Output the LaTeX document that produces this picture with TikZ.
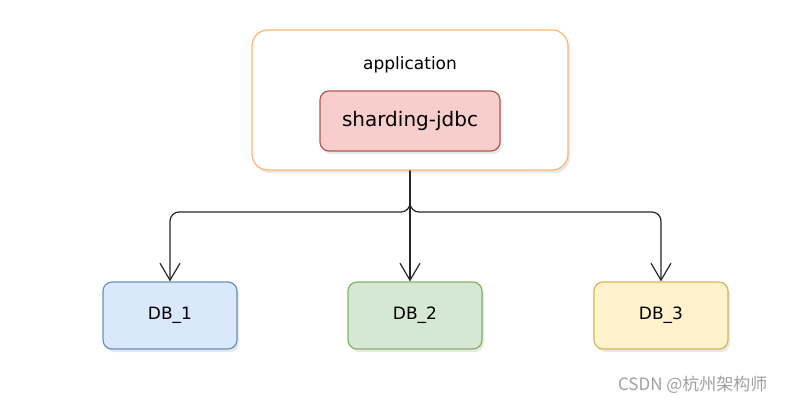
\documentclass[tikz,border=0pt]{standalone}
\usepackage{fontspec}
\setmainfont{DejaVu Sans}
\newfontfamily\cjk{Noto Sans CJK SC}
\usetikzlibrary{arrows.meta,shadows}
\definecolor{apporange}{HTML}{FFB570}
\definecolor{redfill}{HTML}{F8CECC}
\definecolor{redline}{HTML}{B85450}
\definecolor{bluefill}{HTML}{DAE8FC}
\definecolor{blueline}{HTML}{6C8EBF}
\definecolor{greenfill}{HTML}{D5E8D4}
\definecolor{greenline}{HTML}{82B366}
\definecolor{yellowfill}{HTML}{FFF2CC}
\definecolor{yellowline}{HTML}{D6B656}
\tikzset{
  shd/.style={drop shadow={shadow xshift=2pt,shadow yshift=-3pt,opacity=0.18,fill=gray}},
  box/.style={draw, line width=1.2pt, rounded corners=9pt, minimum width=134pt, minimum height=67pt, font=\fontsize{17}{19}\selectfont, shd},
  conn/.style={draw=black!85, line width=1.2pt, rounded corners=9pt, -{Straight Barb[length=17pt,width=20pt,line width=1.2pt]}},
}
\begin{document}
\begin{tikzpicture}[x=1pt,y=-1pt]
\useasboundingbox (0,0) rectangle (786,406);
\node[draw=apporange, line width=1.2pt, fill=white, rounded corners=16pt, minimum width=316pt, minimum height=140pt, shd] (app) at (410,100) {};
\node[font=\fontsize{17}{19}\selectfont] (apptxt) at (410,65) {application};
\node[draw=redline, fill=redfill, line width=1.2pt, rounded corners=9pt, minimum width=180pt, minimum height=60pt, font=\fontsize{20}{22}\selectfont, shd] (sj) at (410,121) {sharding-jdbc};
\node[box, draw=blueline, fill=bluefill] (db1) at (170,315.5) {DB\_1};
\node[box, draw=greenline, fill=greenfill] (db2) at (415,315.5) {DB\_2};
\node[box, draw=yellowline, fill=yellowfill] (db3) at (661,315.5) {DB\_3};
\coordinate (j) at (410,212);
\draw[conn] (app.south) -- (j) -| (db1.north);
\draw[conn] (app.south) -- (j) -| (db3.north);
\draw[conn] (app.south) -- (app.south |- db2.north);
\node[text=gray!75, font=\cjk\fontsize{17}{19}\selectfont, anchor=east] (wm) at (771,385) {CSDN @杭州架构师};
\end{tikzpicture}
\end{document}
